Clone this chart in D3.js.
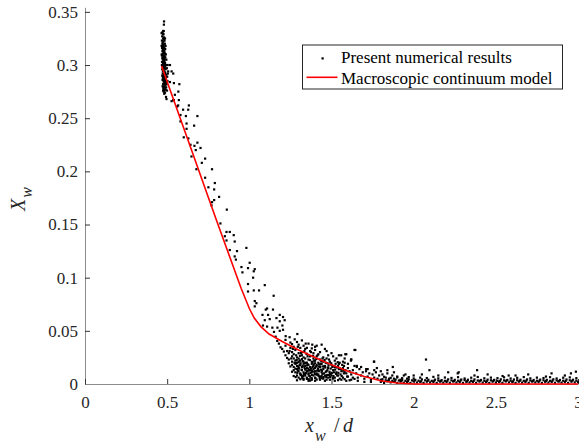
<!DOCTYPE html>
<html>
<head>
<meta charset="UTF-8">
<title>X_w vs x_w/d</title>
<script src="https://d3js.org/d3.v7.min.js"></script>
<style>
  body { margin: 0; background: #fff; }
  svg { display: block; font-family: "Liberation Serif", "Times New Roman", serif; }
</style>
</head>
<body>
<svg width="579" height="444"></svg>
<script>
// --- data ---
const xTicks = [0, 0.5, 1, 1.5, 2, 2.5, 3];
const xTickLabels = ["0", "0.5", "1", "1.5", "2", "2.5", "3"];
const yTicks = [0, 0.05, 0.1, 0.15, 0.2, 0.25, 0.3, 0.35];
const yTickLabels = ["0", "0.05", "0.1", "0.15", "0.2", "0.25", "0.3", "0.35"];
const legendLabels = ["Present numerical results", "Macroscopic continuum model"];

// dense cluster at the start
const clusterPts = [
  [0.472,0.331],[0.478,0.329],[0.470,0.327],[0.481,0.326],[0.475,0.325],[0.468,0.323],[0.484,0.323],[0.477,0.322],
  [0.471,0.320],[0.486,0.320],[0.479,0.319],[0.474,0.318],[0.469,0.316],[0.483,0.316],[0.488,0.315],[0.476,0.314],
  [0.471,0.313],[0.480,0.312],[0.486,0.311],[0.473,0.310],[0.468,0.309],[0.482,0.309],[0.477,0.308],[0.489,0.307],
  [0.472,0.306],[0.484,0.305],[0.479,0.304],[0.469,0.303],[0.475,0.302],[0.487,0.302],[0.481,0.301],[0.492,0.300],
  [0.473,0.299],[0.478,0.298],[0.485,0.297],[0.470,0.296],[0.490,0.296],[0.476,0.295],[0.482,0.294],[0.488,0.293],
  [0.473,0.292],[0.479,0.291],[0.495,0.291],[0.485,0.290],[0.476,0.289],[0.491,0.288],[0.481,0.287],[0.472,0.286],
  [0.487,0.286],[0.478,0.285],[0.493,0.284],[0.483,0.283],[0.475,0.282],[0.489,0.281],[0.480,0.280],[0.486,0.279],
  [0.477,0.278],[0.491,0.277],[0.483,0.276],[0.479,0.275],[0.487,0.274],[0.482,0.273],
  [0.474,0.329],[0.480,0.324],[0.473,0.321],[0.478,0.317],[0.474,0.315],[0.483,0.313],[0.476,0.311],[0.485,0.308],
  [0.471,0.307],[0.481,0.306],[0.476,0.305],[0.483,0.303],[0.478,0.301],[0.474,0.300],[0.488,0.299],[0.482,0.297],
  [0.474,0.294],[0.486,0.292],[0.482,0.289],[0.474,0.288],[0.484,0.285],[0.480,0.283],[0.486,0.282],[0.478,0.279],
  [0.484,0.277],[0.480,0.277],[0.476,0.332],[0.479,0.332],[0.466,0.330],
  [0.495,0.305],[0.498,0.297],[0.500,0.289],[0.497,0.282],[0.492,0.310],[0.490,0.318],[0.487,0.325],[0.466,0.318],
  [0.467,0.310],[0.468,0.300],[0.470,0.290],[0.472,0.280],[0.475,0.276],[0.494,0.279],[0.499,0.276],[0.502,0.285],
  [0.504,0.292],[0.503,0.300],
  [0.481,0.341],[0.480,0.338],[0.493,0.270],[0.517,0.300],[0.527,0.294],[0.537,0.292],[0.517,0.284],[0.541,0.283],
  [0.574,0.282],[0.568,0.275],[0.541,0.267],[0.506,0.294]
];

// points along the steep part
const descentPts = [
  [0.496,0.268],[0.527,0.266],[0.547,0.272],[0.571,0.267],[0.561,0.261],[0.567,0.262],[0.632,0.262],[0.597,0.258],
  [0.628,0.258],[0.581,0.253],[0.614,0.252],[0.684,0.252],[0.581,0.247],[0.618,0.245],[0.664,0.243],[0.618,0.240],
  [0.601,0.232],[0.629,0.231],[0.684,0.227],[0.642,0.225],[0.666,0.224],[0.703,0.222],[0.674,0.220],[0.648,0.214],
  [0.731,0.212],[0.711,0.208],[0.678,0.202],[0.773,0.202],[0.731,0.194],[0.790,0.189],[0.751,0.185],[0.786,0.183],
  [0.816,0.176],[0.786,0.173],[0.770,0.168],[0.863,0.164],[0.824,0.151],[0.861,0.143],[0.881,0.143],[0.851,0.139],
  [0.905,0.140],[0.861,0.135],[0.911,0.134],[0.982,0.128],[0.881,0.126],[0.925,0.125],[0.537,0.267],[0.773,0.171]
];

// points around the knee
const kneePts = [
  [0.911,0.120],[0.918,0.117],[1.002,0.114],[0.952,0.110],[0.992,0.109],[0.958,0.105],[1.033,0.108],[1.027,0.106],
  [1.023,0.100],[0.992,0.094],[1.094,0.093],[0.992,0.087],[1.027,0.088],[1.059,0.088],[1.148,0.083],[1.033,0.078],
  [1.043,0.076],[1.033,0.073],[1.108,0.071],[1.144,0.070],[1.100,0.070],[1.080,0.065],[1.114,0.065],[1.185,0.065],
  [1.205,0.063],[1.165,0.062],[1.094,0.060],[1.124,0.061],[1.215,0.060],[1.185,0.059],[1.083,0.055],[1.108,0.054],
  [1.140,0.053],[1.171,0.053],[1.201,0.055],[1.205,0.051],[1.150,0.049],[1.185,0.050],[1.292,0.047],[1.221,0.045],
  [1.245,0.044],[1.276,0.042],[1.343,0.038],[1.383,0.037],[1.640,0.032],[1.559,0.027],[1.590,0.028],[1.620,0.023],
  [1.758,0.021],[1.545,0.019],[1.576,0.017],[1.654,0.017],[1.711,0.014],[1.776,0.015]
];

// dense cloud between 1.2 and 1.6
const tailPts = [
  [1.18,0.038],[1.22,0.036],[1.25,0.039],[1.27,0.035],[1.30,0.037],[1.33,0.036],[1.36,0.038],[1.40,0.035],[1.44,0.037],
  [1.20,0.033],[1.23,0.031],[1.25,0.034],[1.26,0.030],[1.28,0.032],[1.31,0.034],[1.32,0.030],[1.34,0.033],[1.37,0.031],
  [1.40,0.032],[1.43,0.030],[1.46,0.033],
  [1.22,0.027],[1.24,0.029],[1.26,0.026],[1.27,0.028],[1.29,0.025],[1.30,0.029],[1.32,0.027],[1.33,0.025],[1.35,0.028],
  [1.37,0.026],[1.39,0.029],[1.41,0.026],[1.42,0.028],[1.45,0.025],[1.48,0.027],[1.51,0.026],
  [1.24,0.023],[1.26,0.021],[1.27,0.024],[1.28,0.022],[1.29,0.020],[1.30,0.024],[1.31,0.022],[1.33,0.021],[1.34,0.024],
  [1.35,0.020],[1.36,0.023],[1.38,0.021],[1.39,0.024],[1.40,0.022],[1.42,0.020],[1.43,0.023],[1.45,0.021],[1.47,0.024],
  [1.49,0.021],[1.52,0.022],[1.55,0.020],
  [1.26,0.018],[1.27,0.016],[1.28,0.019],[1.29,0.017],[1.30,0.015],[1.31,0.018],[1.32,0.016],[1.33,0.019],[1.34,0.017],
  [1.35,0.015],[1.36,0.018],[1.37,0.016],[1.38,0.019],[1.39,0.017],[1.40,0.015],[1.41,0.018],[1.43,0.016],[1.44,0.019],
  [1.46,0.017],[1.48,0.015],[1.50,0.018],[1.52,0.016],[1.54,0.017],[1.57,0.015],
  [1.27,0.013],[1.28,0.011],[1.29,0.014],[1.30,0.012],[1.31,0.010],[1.32,0.013],[1.33,0.011],[1.34,0.014],[1.35,0.012],
  [1.36,0.010],[1.37,0.013],[1.38,0.011],[1.39,0.014],[1.40,0.012],[1.41,0.010],[1.42,0.013],[1.44,0.011],[1.45,0.014],
  [1.47,0.012],[1.49,0.010],[1.51,0.013],[1.53,0.011],[1.56,0.012],[1.59,0.010],[1.61,0.012],
  [1.29,0.008],[1.30,0.006],[1.31,0.009],[1.32,0.007],[1.33,0.005],[1.34,0.008],[1.35,0.006],[1.36,0.009],[1.37,0.007],
  [1.38,0.005],[1.39,0.008],[1.40,0.006],[1.42,0.009],[1.43,0.007],[1.45,0.005],[1.46,0.008],[1.48,0.006],[1.50,0.008],
  [1.52,0.006],[1.54,0.008],[1.57,0.006],[1.60,0.007],[1.63,0.006],
  [1.33,0.004],[1.36,0.003],[1.38,0.004],[1.40,0.003],[1.43,0.004],[1.46,0.003],[1.49,0.004],[1.52,0.003],[1.56,0.004],
  [1.285,0.0195],[1.295,0.0125],[1.305,0.0175],[1.315,0.0085],[1.325,0.0215],[1.335,0.0155],[1.345,0.0105],[1.355,0.0185],
  [1.365,0.0075],[1.375,0.0145],[1.385,0.0205],[1.395,0.0115],[1.405,0.0165],[1.415,0.0085],[1.425,0.0185],[1.435,0.0135],
  [1.445,0.0095],[1.455,0.0165],[1.465,0.0115],[1.475,0.0195],[1.485,0.0085],[1.495,0.0145],[1.30,0.0205],[1.32,0.0235],
  [1.34,0.0095],[1.36,0.0145],[1.38,0.0085],[1.40,0.0195],[1.42,0.0165],[1.44,0.0075],
  [1.245,0.031],[1.255,0.024],[1.265,0.033],[1.275,0.020],[1.285,0.027],[1.295,0.035],[1.305,0.022],[1.315,0.029],
  [1.325,0.017],[1.335,0.031],[1.345,0.020],[1.355,0.026],[1.365,0.013],[1.375,0.030],[1.385,0.016],[1.395,0.022],
  [1.405,0.009],[1.415,0.027],[1.425,0.012],[1.435,0.019],[1.445,0.024],[1.455,0.010],[1.465,0.020],[1.475,0.013],
  [1.485,0.023],[1.495,0.009],[1.505,0.016],[1.515,0.011],[1.525,0.019],[1.535,0.008],[1.545,0.014],[1.555,0.009],
  [1.565,0.018],[1.575,0.010],[1.585,0.013],[1.595,0.007],[1.29,0.0035],[1.31,0.0045],[1.35,0.0048],[1.37,0.0032],
  [1.41,0.0042],[1.44,0.0055],[1.47,0.0041],[1.51,0.0052],[1.54,0.0036],[1.58,0.0045],[1.61,0.0035],[1.64,0.0048],
  [1.27,0.0075],[1.28,0.0145],[1.26,0.0115],[1.25,0.0165],[1.24,0.0195],[1.23,0.0245],[1.21,0.0305],[1.19,0.0345],
  [1.17,0.0405],[1.16,0.0445],[1.22,0.0415],[1.26,0.0375],[1.29,0.0395],[1.32,0.041],[1.35,0.034],[1.38,0.0335],
  [1.41,0.036],[1.47,0.031],[1.50,0.029],[1.53,0.024],[1.57,0.021],[1.60,0.019],
  [1.282,0.0065],[1.292,0.0105],[1.302,0.0145],[1.312,0.0195],[1.322,0.0055],[1.332,0.0095],[1.342,0.0135],[1.352,0.0175],
  [1.362,0.0045],[1.372,0.0105],[1.382,0.0125],[1.392,0.0185],[1.402,0.0055],[1.412,0.0125],[1.422,0.0075],[1.432,0.0165],
  [1.442,0.0125],[1.452,0.0065],[1.462,0.0155],[1.472,0.0085],[1.482,0.0175],[1.492,0.0065],[1.502,0.0105],[1.512,0.0075],
  [1.522,0.0135],[1.532,0.0155],[1.542,0.0105],[1.552,0.0145],[1.562,0.0075],[1.572,0.0125],
  [1.288,0.0225],[1.298,0.0165],[1.308,0.0265],[1.318,0.0135],[1.328,0.0075],[1.338,0.0195],[1.348,0.0285],[1.358,0.0125],
  [1.368,0.0225],[1.378,0.0055],[1.388,0.0265],[1.398,0.0095],[1.408,0.0235],[1.418,0.0145],[1.428,0.0055],[1.438,0.0215],
  [1.448,0.0165],[1.458,0.0225],[1.468,0.0065],[1.478,0.0155],[1.488,0.0115],[1.498,0.0195],[1.508,0.0055],[1.518,0.0165],
  [1.528,0.0095],[1.538,0.0205]
];

// thinning out between 1.55 and 1.95
const transitionPts = [
  [1.56,0.014],[1.58,0.011],[1.60,0.015],[1.62,0.009],[1.63,0.013],[1.65,0.010],[1.66,0.006],[1.67,0.014],[1.68,0.008],
  [1.69,0.011],[1.70,0.005],[1.71,0.012],[1.72,0.007],[1.73,0.010],[1.74,0.004],[1.75,0.009],[1.76,0.006],[1.77,0.011],
  [1.78,0.005],[1.79,0.008],[1.80,0.004],[1.81,0.009],[1.83,0.006],[1.84,0.010],[1.85,0.005],[1.87,0.008],[1.88,0.005],
  [1.90,0.007],[1.92,0.004],[1.94,0.008],[1.96,0.005],[1.64,0.017],[1.68,0.016],[1.72,0.014],[1.76,0.013],[1.80,0.012],
  [1.84,0.013],[1.88,0.011],[1.55,0.005],[1.59,0.003],[1.62,0.004],[1.66,0.003],[1.70,0.002],[1.74,0.002],
  [1.545,0.027],[1.584,0.028],[1.645,0.032],[1.618,0.022],[1.580,0.020],[1.654,0.016],[1.760,0.021],[1.873,0.016],
  [1.62,0.023],[1.58,0.024]
];

// flat band near zero
const bandPts = [
  [1.80,0.002],[1.82,0.001],[1.84,0.0025],[1.86,0.0015],[1.88,0.002],[1.90,0.001],[1.92,0.0022],[1.94,0.0012],[1.96,0.0018],
  [1.98,0.001],[2.00,0.0024],[2.02,0.0014],[2.04,0.002],[2.06,0.001],[2.08,0.0022],[2.10,0.0015],[2.12,0.0019],[2.14,0.001],
  [2.16,0.0023],[2.18,0.0013],[2.20,0.002],[2.22,0.0011],[2.24,0.0024],[2.26,0.0014],[2.28,0.0018],[2.30,0.001],[2.32,0.0021],
  [2.34,0.0015],[2.36,0.002],[2.38,0.0011],[2.40,0.0023],[2.42,0.0013],[2.44,0.0019],[2.46,0.001],[2.48,0.0022],[2.50,0.0014],
  [2.52,0.002],[2.54,0.0011],[2.56,0.0024],[2.58,0.0015],[2.60,0.0018],[2.62,0.001],[2.64,0.0022],[2.66,0.0013],[2.68,0.002],
  [2.70,0.0011],[2.72,0.0023],[2.74,0.0015],[2.76,0.0019],[2.78,0.001],[2.80,0.0021],[2.82,0.0014],[2.84,0.002],[2.86,0.0011],
  [2.88,0.0024],[2.90,0.0013],[2.92,0.0018],[2.94,0.001],[2.96,0.0022],[2.98,0.0015],[3.00,0.002],
  [1.81,0.0045],[1.83,0.0035],[1.85,0.004],[1.87,0.003],[1.89,0.0042],[1.91,0.0033],[1.93,0.0038],[1.95,0.003],[1.97,0.0044],
  [1.99,0.0034],[2.01,0.0039],[2.03,0.0031],[2.05,0.0043],[2.07,0.0035],[2.09,0.004],[2.11,0.003],[2.13,0.0041],[2.15,0.0033],
  [2.17,0.0037],[2.19,0.003],[2.21,0.0044],[2.23,0.0034],[2.25,0.0039],[2.27,0.0031],[2.29,0.0042],[2.31,0.0036],[2.33,0.004],
  [2.35,0.003],[2.37,0.0043],[2.39,0.0033],[2.41,0.0038],[2.43,0.0031],[2.45,0.0041],[2.47,0.0035],[2.49,0.0039],[2.51,0.003],
  [2.53,0.0044],[2.55,0.0034],[2.57,0.0038],[2.59,0.0031],[2.61,0.0042],[2.63,0.0035],[2.65,0.004],[2.67,0.003],[2.69,0.0043],
  [2.71,0.0033],[2.73,0.0038],[2.75,0.0031],[2.77,0.0041],[2.79,0.0035],[2.81,0.0039],[2.83,0.003],[2.85,0.0044],[2.87,0.0034],
  [2.89,0.0038],[2.91,0.0031],[2.93,0.0042],[2.95,0.0035],[2.97,0.004],[2.99,0.0032],
  [1.82,0.0068],[1.86,0.0058],[1.90,0.0062],[1.93,0.0055],[1.97,0.0065],[2.00,0.0052],[2.04,0.006],[2.08,0.0056],[2.12,0.0067],
  [2.15,0.0053],[2.19,0.0061],[2.23,0.0057],[2.27,0.0064],[2.31,0.0052],[2.35,0.0059],[2.39,0.0066],[2.43,0.0054],[2.47,0.006],
  [2.51,0.0055],[2.55,0.0063],[2.59,0.0052],[2.63,0.0058],[2.67,0.0065],[2.71,0.0053],[2.75,0.006],[2.79,0.0056],[2.83,0.0064],
  [2.87,0.0052],[2.91,0.0059],[2.95,0.0062],[2.99,0.0055],
  [1.805,0.0028],[1.845,0.0031],[1.885,0.0026],[1.925,0.003],[1.965,0.0027],[2.005,0.0032],[2.045,0.0025],[2.085,0.0029],
  [2.125,0.0031],[2.165,0.0026],[2.205,0.003],[2.245,0.0027],[2.285,0.0032],[2.325,0.0025],[2.365,0.0029],[2.405,0.0031],
  [2.445,0.0026],[2.485,0.003],[2.525,0.0027],[2.565,0.0032],[2.605,0.0025],[2.645,0.0029],[2.685,0.0031],[2.725,0.0026],
  [2.765,0.003],[2.805,0.0027],[2.845,0.0032],[2.885,0.0025],[2.925,0.0029],[2.965,0.0031]
];

// isolated points above the band
const sparsePts = [
  [2.075,0.023],[2.096,0.013],[2.21,0.011],[2.274,0.011],[2.268,0.010],[2.386,0.013],[2.37,0.008],[2.541,0.0075],
  [2.578,0.008],[2.697,0.009],[2.805,0.007],[2.839,0.010],[2.957,0.010],[2.987,0.0116],[2.05,0.009],[2.15,0.008],
  [2.45,0.009],[2.62,0.008],[2.92,0.008],[1.95,0.009],[2.00,0.008]
];

// macroscopic continuum model curve
const modelCurve = [
  [0.466,0.299],[0.6,0.241],[0.8,0.154],[0.95,0.090],[1.0,0.071],[1.03,0.062],[1.07,0.054],[1.12,0.047],[1.2,0.040],
  [1.3,0.032],[1.4,0.025],[1.5,0.018],[1.6,0.012],[1.7,0.007],[1.8,0.003],[1.9,0.001],[2.0,0],[3.0,0]
];

// --- drawing ---
const serif = "'Liberation Serif', 'Times New Roman', serif";
const svg = d3.select("svg");
svg.append("rect").attr("width", 579).attr("height", 444).attr("fill", "#fff");

const x = d3.scaleLinear().domain([0, 3]).range([85, 578]);
const y = d3.scaleLinear().domain([0, 0.3543]).range([384, 7.3]);

// axes with ticks pointing inward
const gy = svg.append("g")
  .attr("transform", "translate(85,0)")
  .call(d3.axisLeft(y).tickValues(yTicks).tickFormat((d, i) => yTickLabels[i])
    .tickSizeInner(-5).tickSizeOuter(0).tickPadding(7));

const gx = svg.append("g")
  .attr("transform", "translate(0,384)")
  .call(d3.axisBottom(x).tickValues(xTicks).tickFormat((d, i) => xTickLabels[i])
    .tickSizeInner(-5).tickSizeOuter(0).tickPadding(12));

[gx, gy].forEach(g => {
  g.selectAll(".tick text")
    .style("font-family", serif)
    .style("font-size", "17px")
    .attr("fill", "#262626");
  g.select(".domain").attr("stroke", "#8c8c8c");
  g.selectAll(".tick line").attr("stroke", "#333");
});

// scatter
const allPts = [].concat(clusterPts, descentPts, kneePts, tailPts, transitionPts, bandPts, sparsePts);
svg.append("g").selectAll("rect")
  .data(allPts)
  .join("rect")
  .attr("x", d => x(d[0]) - 1.1)
  .attr("y", d => y(d[1]) - 1.1)
  .attr("width", 2.2)
  .attr("height", 2.2)
  .attr("fill", "#000");

// model line
svg.append("path")
  .datum(modelCurve)
  .attr("fill", "none")
  .attr("stroke", "#ff0000")
  .attr("stroke-width", 1.6)
  .attr("d", d3.line().x(d => x(d[0])).y(d => y(d[1])));

// axis titles
const xt = svg.append("text").style("font-family", serif).attr("font-size", 20).attr("fill", "#262626");
xt.append("tspan").attr("x", 305).attr("y", 432).attr("font-style", "italic").text("x");
xt.append("tspan").attr("x", 315).attr("y", 441).attr("font-style", "italic").attr("font-size", 16).text("w");
xt.append("tspan").attr("x", 334).attr("y", 432).text("/");
xt.append("tspan").attr("x", 343).attr("y", 432).attr("font-style", "italic").text("d");

const yt = svg.append("text").style("font-family", serif).attr("font-size", 20).attr("fill", "#262626")
  .attr("transform", "translate(25,211) rotate(-90)");
yt.append("tspan").attr("font-style", "italic").text("X");
yt.append("tspan").attr("dy", 7).attr("dx", 1).attr("font-style", "italic").attr("font-size", 16).text("w");

// legend
const lg = svg.append("g").attr("transform", "translate(302.5,45)");
lg.append("rect").attr("width", 260).attr("height", 44)
  .attr("fill", "#fff").attr("stroke", "#262626").attr("stroke-width", 1);
lg.append("rect").attr("x", 19).attr("y", 12.3).attr("width", 2.2).attr("height", 2.2).attr("fill", "#000");
lg.append("line").attr("x1", 4).attr("x2", 35).attr("y1", 32.3).attr("y2", 32.3)
  .attr("stroke", "#ff0000").attr("stroke-width", 1.6);
lg.selectAll("text.lab")
  .data(legendLabels)
  .join("text")
  .attr("class", "lab")
  .attr("x", 38.5)
  .attr("y", (d, i) => 18 + i * 21)
  .style("font-family", serif)
  .attr("font-size", 17)
  .attr("fill", "#000")
  .text(d => d);
</script>
</body>
</html>
